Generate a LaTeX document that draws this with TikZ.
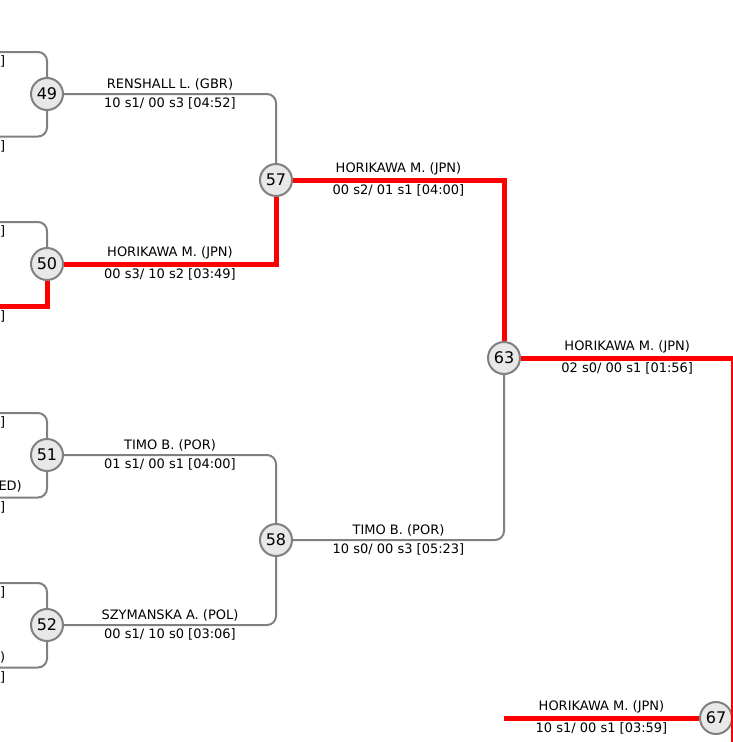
\documentclass[tikz,border=0pt]{standalone}
\usepackage{fontspec}
\setmainfont{DejaVu Sans}
\usetikzlibrary{positioning,calc}

\begin{document}
\begin{tikzpicture}[x=1pt,y=-1pt,
    match/.style={circle,draw=gray,fill=gray!18,line width=2pt,minimum size=32pt,
      inner sep=0pt,font=\fontsize{16}{18}\selectfont},
    link/.style={draw=gray,line width=2pt,rounded corners=9pt},
    win/.style={draw=red,line width=5pt},
    lab/.style={font=\fontsize{13}{15}\selectfont,inner sep=2.5pt},
    edge lab/.style={lab,inner sep=0pt,anchor=east}]
  \useasboundingbox (0,0) rectangle (732,742);
  \foreach \y/\lab/\up/\lo in {94/49/link/link,264/50/link/win,455/51/link/link,625/52/link/link} {
    \node[match] (m\lab) at (47,\y) {\lab};
    \coordinate (u\lab) at (-5,\y-42);
    \coordinate (d\lab) at (-5,\y+42.5);
    \draw[\up] (u\lab) -| (m\lab);
    \draw[\lo] (d\lab) -| (m\lab);
    \node[edge lab] (su\lab) at (5.5,\y-33) {]};
    \node[edge lab] (sd\lab) at (5.5,\y+52) {]};
  }
  \node[edge lab] (nd51) at (22,486) {ED)};
  \node[edge lab] (nd52) at (5.5,657) {)};
  \node[match] (m57) at (276,180) {57};
  \node[match] (m58) at (276,540) {58};
  \node[match] (m63) at (504,358) {63};
  \node[match] (m67) at (716,718) {67};
  \coordinate (c65) at (733.5,760);
  \coordinate (r67) at (504,718);
  \draw[link] (m49) -| node[pos=.25,above,lab] {RENSHALL L. (GBR)}
    node[pos=.25,below,lab] {10 s1/ 00 s3 [04:52]} (m57);
  \draw[win] (m50) -| node[pos=.25,above,lab] {HORIKAWA M. (JPN)}
    node[pos=.25,below,lab] {00 s3/ 10 s2 [03:49]} (m57);
  \draw[link] (m51) -| node[pos=.25,above,lab] {TIMO B. (POR)}
    node[pos=.25,below,lab] {01 s1/ 00 s1 [04:00]} (m58);
  \draw[link] (m52) -| node[pos=.25,above,lab] {SZYMANSKA A. (POL)}
    node[pos=.25,below,lab] {00 s1/ 10 s0 [03:06]} (m58);
  \draw[win] (m57) -| node[pos=.25,above,lab] {HORIKAWA M. (JPN)}
    node[pos=.25,below,lab] {00 s2/ 01 s1 [04:00]} (m63);
  \draw[link] (m58) -| node[pos=.25,above,lab] {TIMO B. (POR)}
    node[pos=.25,below,lab] {10 s0/ 00 s3 [05:23]} (m63);
  \draw[win] (m63) -| node[pos=.25,above,lab] {HORIKAWA M. (JPN)}
    node[pos=.25,below,lab] {02 s0/ 00 s1 [01:56]} (c65);
  \draw[win] (r67) -- node[above,lab] {HORIKAWA M. (JPN)}
    node[below,lab] {10 s1/ 00 s1 [03:59]} (m67);
\end{tikzpicture}
\end{document}
